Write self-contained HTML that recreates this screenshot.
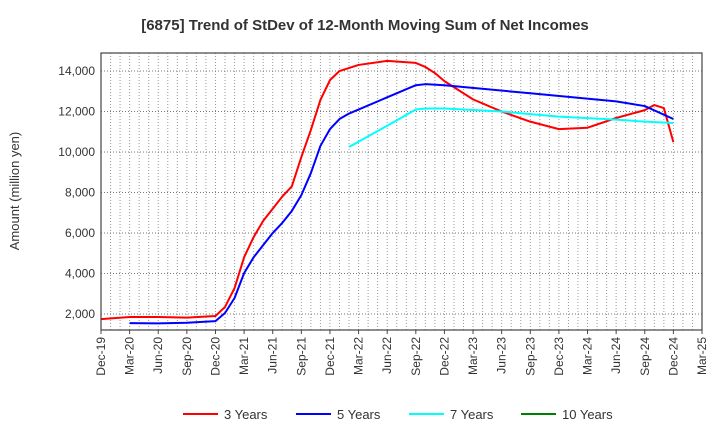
<!DOCTYPE html>
<html><head><meta charset="utf-8"><style>
body{margin:0;background:#fff;font-family:"Liberation Sans",sans-serif}
</style></head><body>
<svg id="c" width="720" height="440" xmlns="http://www.w3.org/2000/svg" font-family="Liberation Sans, sans-serif">
<text x="365" y="30" text-anchor="middle" font-size="15" font-weight="bold" fill="#333">[6875]  Trend of StDev of 12-Month Moving Sum of Net Incomes</text>
<text transform="translate(19,191) rotate(-90)" text-anchor="middle" font-size="13" fill="#333">Amount (million yen)</text>
<g id="grid"></g><g id="series"></g><g id="axes"></g><g id="legend"></g>
</svg>
<script>
const xLabels=["Dec-19","Mar-20","Jun-20","Sep-20","Dec-20","Mar-21","Jun-21","Sep-21","Dec-21","Mar-22","Jun-22","Sep-22","Dec-22","Mar-23","Jun-23","Sep-23","Dec-23","Mar-24","Jun-24","Sep-24","Dec-24","Mar-25"];
const yTicks=[2000,4000,6000,8000,10000,12000,14000];
const seriesNames=["3 Years","5 Years","7 Years","10 Years"];
const seriesColors=["#ff0000","#0000ff","#00ffff","#008000"];
// month index (0 = Dec-19) and values
const red3M=[0,3,6,9,12,13,14,15,16,17,18,19,20,21,22,23,24,25,27,30,33,34,35,36,39,42,45,48,51,54,57,58,59,60];
const red3V=[1750,1850,1850,1820,1900,2350,3280,4800,5800,6600,7200,7800,8300,9750,11090,12570,13550,14000,14300,14500,14400,14200,13900,13500,12600,12000,11500,11130,11200,11680,12070,12320,12170,10490];
const blue5M=[3,6,9,12,13,14,15,16,17,18,19,20,21,22,23,24,25,26,30,33,34,36,45,54,57,60];
const blue5V=[1550,1540,1570,1650,2050,2790,4020,4800,5400,6000,6500,7090,7870,8960,10300,11130,11630,11900,12700,13300,13350,13300,12900,12500,12270,11630];
const c7M=[26,30,33,34,36,42,48,54,57,60];
const c7V=[10250,11300,12100,12150,12150,12000,11750,11600,11500,11430];
const X0=101,X1=702,Y0=53,Y1=330,MMAX=63,VMIN=1210,VMAX=14890;
const xs=m=>X0+(X1-X0)*m/MMAX, ys=v=>Y1-(Y1-Y0)*(v-VMIN)/(VMAX-VMIN);
const NS="http://www.w3.org/2000/svg";
function mk(t,a,p){const e=document.createElementNS(NS,t);for(const k in a)e.setAttribute(k,a[k]);p.appendChild(e);return e;}
const g=document.getElementById('grid'),ax=document.getElementById('axes'),sg=document.getElementById('series'),lg=document.getElementById('legend');
for(let m=1;m<MMAX;m++){const l=mk('line',{x1:xs(m),x2:xs(m),y1:Y0,y2:Y1,stroke:'#999','stroke-dasharray':'1,2','stroke-width':1},g);

}
yTicks.forEach(v=>{const l=mk('line',{x1:X0,x2:X1,y1:ys(v),y2:ys(v),stroke:'#777','stroke-dasharray':'1,2','stroke-width':1},g);


const t=mk('text',{x:X0-6,y:ys(v)+4,'text-anchor':'end','font-size':12,fill:'#333'},ax);t.textContent=v.toLocaleString('en-US');

});
const fr=mk('rect',{x:X0,y:Y0,width:X1-X0,height:Y1-Y0,fill:'none',stroke:'#444','stroke-width':1.2},ax);


xLabels.forEach((s,i)=>{const x=xs(i*3);mk('line',{x1:x,x2:x,y1:Y1,y2:Y1+4,stroke:'#444'},ax);
const t=mk('text',{transform:`translate(${x+4},${Y1+7}) rotate(-90)`,'text-anchor':'end','font-size':12,fill:'#333'},ax);t.textContent=s;

});
[[red3M,red3V,0],[blue5M,blue5V,1],[c7M,c7V,2]].forEach(([M,V,k])=>{
const p=mk('polyline',{points:M.map((m,i)=>xs(m)+','+ys(V[i])).join(' '),fill:'none',stroke:seriesColors[k],'stroke-width':2,'stroke-linejoin':'round'},sg);

});
const lx=[183,296,409,521];
seriesNames.forEach((n,i)=>{const gg=mk('g',{},lg);


mk('line',{x1:lx[i],x2:lx[i]+35,y1:414,y2:414,stroke:seriesColors[i],'stroke-width':2},gg);
const t=mk('text',{x:lx[i]+41,y:419,'font-size':13,fill:'#333'},gg);t.textContent=n;});
</script>
</body></html>
